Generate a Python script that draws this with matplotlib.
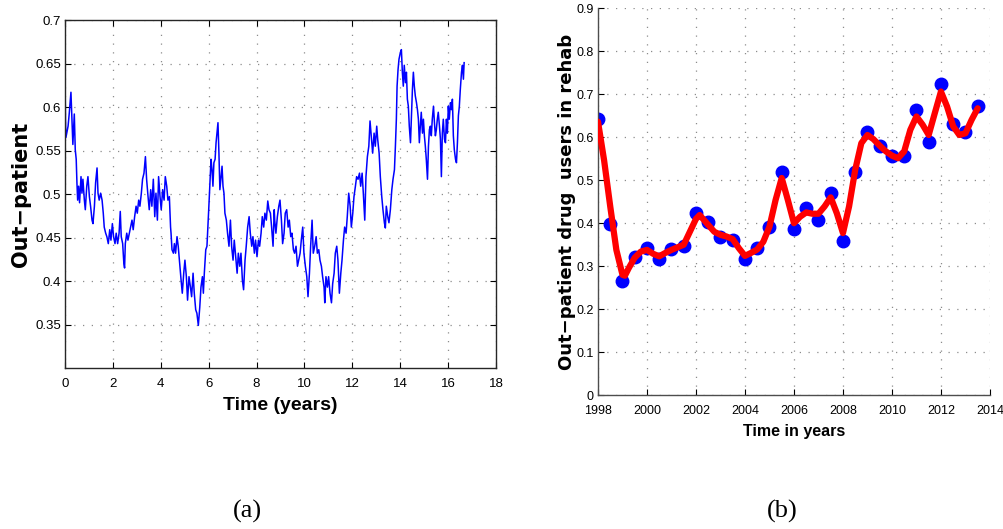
import matplotlib
matplotlib.use('Agg')
import matplotlib.pyplot as plt
from matplotlib.ticker import FormatStrFormatter

# ---------- panel (a): out-patient fraction over time ----------
t_years = [
    0.00, 0.02, 0.04, 0.13, 0.18, 0.25, 0.29, 0.33, 0.39, 0.43, 0.47, 0.50, 0.53, 0.57, 0.61,
    0.67, 0.71, 0.75, 0.81, 0.85, 0.91, 0.96, 1.02, 1.07, 1.13, 1.17, 1.23, 1.28, 1.34, 1.38,
    1.43, 1.49, 1.55, 1.60, 1.64, 1.70, 1.75, 1.81, 1.87, 1.92, 1.98, 2.03, 2.09, 2.14, 2.20,
    2.26, 2.31, 2.35, 2.41, 2.46, 2.49, 2.52, 2.58, 2.63, 2.69, 2.74, 2.80, 2.85, 2.91, 2.97,
    3.02, 3.08, 3.13, 3.19, 3.24, 3.30, 3.36, 3.41, 3.47, 3.52, 3.58, 3.63, 3.69, 3.75, 3.80,
    3.86, 3.91, 3.97, 4.02, 4.08, 4.14, 4.19, 4.25, 4.30, 4.36, 4.41,
    4.43, 4.47, 4.53, 4.57, 4.62, 4.68, 4.73, 4.79, 4.85, 4.90, 4.96, 5.01, 5.07, 5.12, 5.18,
    5.24, 5.29, 5.35, 5.40, 5.46, 5.51, 5.57, 5.63, 5.68, 5.74, 5.78, 5.82, 5.88, 5.93, 5.97,
    6.01, 6.06, 6.10, 6.14, 6.18, 6.22, 6.27, 6.31, 6.35, 6.39, 6.43, 6.47, 6.52, 6.56, 6.60,
    6.64, 6.68, 6.74, 6.79, 6.85, 6.91, 6.96, 7.02, 7.07, 7.13, 7.19, 7.24, 7.30, 7.35, 7.41,
    7.46, 7.52, 7.57, 7.63, 7.69, 7.74, 7.80, 7.85, 7.91, 7.96, 8.02, 8.08, 8.13, 8.19, 8.24,
    8.30, 8.35, 8.41, 8.47, 8.52, 8.58, 8.63, 8.69, 8.74,
    8.76, 8.81, 8.87, 8.93, 8.98, 9.04, 9.09, 9.15, 9.20, 9.26, 9.32, 9.37, 9.43, 9.48, 9.54,
    9.59, 9.65, 9.71, 9.76, 9.82, 9.87, 9.93, 9.98, 10.04, 10.10, 10.15, 10.21, 10.26, 10.32,
    10.37, 10.43, 10.49, 10.54, 10.60, 10.65, 10.71, 10.76, 10.82, 10.85, 10.90, 10.96, 11.01,
    11.07, 11.13, 11.18, 11.24, 11.29, 11.35, 11.40, 11.46, 11.52, 11.57, 11.63, 11.68, 11.74,
    11.79, 11.85, 11.91, 11.96, 12.02, 12.07, 12.13, 12.18, 12.24, 12.30, 12.35, 12.41, 12.46,
    12.52, 12.57, 12.63, 12.69, 12.74, 12.80, 12.85, 12.91, 12.96, 13.02, 13.06,
    13.12, 13.17, 13.23, 13.28, 13.34, 13.38, 13.42, 13.48, 13.53, 13.59, 13.65, 13.70, 13.76,
    13.80, 13.84, 13.87, 13.91, 13.95, 14.01, 14.05, 14.09, 14.13, 14.17, 14.22, 14.26, 14.30,
    14.34, 14.38, 14.43, 14.47, 14.51, 14.55, 14.59, 14.63, 14.68, 14.72, 14.76, 14.80, 14.84,
    14.88, 14.93, 14.97, 15.01, 15.05, 15.09, 15.14, 15.18, 15.22, 15.26, 15.30, 15.34, 15.39,
    15.43, 15.47, 15.51, 15.55, 15.59, 15.64, 15.68, 15.72, 15.76, 15.80, 15.85, 15.89, 15.93,
    15.97, 16.01, 16.05, 16.10, 16.14, 16.18, 16.22, 16.26, 16.31, 16.35, 16.39, 16.43, 16.47,
    16.51, 16.56, 16.60, 16.64, 16.67,
]
out_patient = [
    0.642, 0.586, 0.565, 0.578, 0.593, 0.617, 0.586, 0.557, 0.592, 0.551, 0.540, 0.513, 0.493, 0.509, 0.490,
    0.520, 0.501, 0.517, 0.493, 0.482, 0.509, 0.520, 0.497, 0.486, 0.470, 0.466, 0.486, 0.513, 0.530, 0.501,
    0.493, 0.501, 0.493, 0.478, 0.462, 0.455, 0.451, 0.443, 0.459, 0.447, 0.466, 0.451, 0.443, 0.455, 0.443,
    0.455, 0.480, 0.451, 0.443, 0.420, 0.415, 0.443, 0.455, 0.447, 0.455, 0.462, 0.470, 0.459, 0.474, 0.486,
    0.478, 0.493, 0.486, 0.501, 0.517, 0.524, 0.543, 0.517, 0.497, 0.482, 0.505, 0.486, 0.517, 0.474, 0.501,
    0.470, 0.520, 0.497, 0.482, 0.505, 0.493, 0.520, 0.509, 0.493, 0.497, 0.462,
    0.455, 0.436, 0.432, 0.443, 0.432, 0.451, 0.440, 0.420, 0.401, 0.386, 0.409, 0.424, 0.405, 0.378, 0.405,
    0.393, 0.382, 0.409, 0.386, 0.367, 0.363, 0.349, 0.370, 0.393, 0.405, 0.386, 0.409, 0.436, 0.440, 0.462,
    0.486, 0.517, 0.540, 0.528, 0.509, 0.536, 0.540, 0.559, 0.570, 0.582, 0.547, 0.505, 0.520, 0.532, 0.509,
    0.501, 0.478, 0.470, 0.455, 0.440, 0.470, 0.440, 0.424, 0.447, 0.428, 0.409, 0.432, 0.417, 0.432, 0.401,
    0.390, 0.424, 0.440, 0.462, 0.474, 0.455, 0.440, 0.451, 0.432, 0.447, 0.428, 0.447, 0.440, 0.455, 0.474,
    0.462, 0.478, 0.470, 0.492, 0.482, 0.478, 0.462, 0.440, 0.482,
    0.470, 0.455, 0.474, 0.486, 0.493, 0.470, 0.443, 0.455, 0.478, 0.482, 0.462, 0.470, 0.451, 0.455, 0.436,
    0.432, 0.440, 0.417, 0.424, 0.432, 0.447, 0.462, 0.432, 0.417, 0.405, 0.382, 0.409, 0.440, 0.470,
    0.432, 0.440, 0.451, 0.432, 0.436, 0.424, 0.417, 0.405, 0.393, 0.375, 0.405, 0.393, 0.405,
    0.386, 0.375, 0.397, 0.409, 0.432, 0.440, 0.424, 0.386, 0.409, 0.424, 0.447, 0.462, 0.455,
    0.474, 0.501, 0.486, 0.462, 0.478, 0.497, 0.509, 0.520, 0.517, 0.524, 0.509, 0.524, 0.501,
    0.470, 0.520, 0.543, 0.555, 0.584, 0.563, 0.547, 0.570, 0.555, 0.578, 0.563,
    0.547, 0.520, 0.497, 0.482, 0.467, 0.461, 0.486, 0.474, 0.467, 0.482, 0.505, 0.517, 0.528,
    0.555, 0.586, 0.624, 0.643, 0.655, 0.663, 0.666, 0.640, 0.624, 0.648, 0.628, 0.640, 0.609,
    0.601, 0.578, 0.559, 0.590, 0.620, 0.640, 0.624, 0.613, 0.605, 0.597, 0.586, 0.559, 0.578,
    0.594, 0.570, 0.586, 0.567, 0.555, 0.540, 0.517, 0.555, 0.574, 0.578, 0.567, 0.586, 0.601,
    0.582, 0.567, 0.574, 0.586, 0.594, 0.578, 0.563, 0.520, 0.570, 0.586, 0.563, 0.559, 0.586,
    0.570, 0.601, 0.586, 0.605, 0.597, 0.609, 0.567, 0.551, 0.540, 0.536, 0.559, 0.590, 0.601,
    0.620, 0.640, 0.648, 0.632, 0.651,
]

# ---------- panel (b): drug users in rehab, half-yearly ----------
obs_years = [1998, 1998.5, 1999, 1999.5, 2000, 2000.5, 2001, 2001.5, 2002, 2002.5, 2003,
             2003.5, 2004, 2004.5, 2005, 2005.5, 2006, 2006.5, 2007, 2007.5, 2008, 2008.5,
             2009, 2009.5, 2010, 2010.5, 2011, 2011.5, 2012, 2012.5, 2013, 2013.5]
obs_values = [0.643, 0.398, 0.266, 0.322, 0.342, 0.316, 0.341, 0.347, 0.423, 0.403, 0.369,
              0.361, 0.316, 0.342, 0.391, 0.520, 0.387, 0.435, 0.408, 0.470, 0.359, 0.518,
              0.613, 0.580, 0.557, 0.557, 0.662, 0.588, 0.723, 0.631, 0.611, 0.673]

# smoothed fit through the observations
fit_years = [1998, 1998.25, 1998.5, 1998.75, 1999, 1999.1, 1999.25, 1999.5, 1999.75, 2000,
             2000.25, 2000.5, 2000.75, 2001, 2001.25, 2001.5, 2001.75, 2002, 2002.15, 2002.5,
             2002.75, 2003, 2003.25, 2003.5, 2003.75, 2004, 2004.25, 2004.5, 2004.75, 2005,
             2005.25, 2005.5, 2005.75, 2006, 2006.25, 2006.5, 2006.75, 2007, 2007.25, 2007.5,
             2007.75, 2008, 2008.25, 2008.5, 2008.75, 2009, 2009.25, 2009.5, 2009.75, 2010,
             2010.25, 2010.5, 2010.75, 2011, 2011.25, 2011.5, 2011.75, 2012, 2012.25, 2012.5,
             2012.75, 2013, 2013.25, 2013.5]
fit_values = [0.636, 0.546, 0.439, 0.338, 0.280, 0.278, 0.295, 0.320, 0.334, 0.338,
              0.329, 0.323, 0.331, 0.338, 0.344, 0.350, 0.380, 0.410, 0.419, 0.396,
              0.380, 0.373, 0.369, 0.363, 0.342, 0.324, 0.331, 0.339, 0.357, 0.392,
              0.454, 0.505, 0.454, 0.400, 0.415, 0.425, 0.422, 0.422, 0.439, 0.460,
              0.423, 0.377, 0.439, 0.524, 0.586, 0.605, 0.595, 0.580, 0.567, 0.557,
              0.551, 0.567, 0.617, 0.648, 0.629, 0.605, 0.656, 0.706, 0.671, 0.625,
              0.605, 0.609, 0.640, 0.667]

SANS = ['Liberation Sans', 'DejaVu Sans']
GRID = dict(linestyle=(0, (1, 6)), color='0.55', linewidth=0.9)

fig = plt.figure(figsize=(10.04, 5.29), dpi=100)

# ---- (a) ----
ax1 = fig.add_axes([0.0647, 0.3043, 0.4293, 0.6578])
ax1.plot(t_years, out_patient, color='b', linewidth=1.1)
ax1.set_xlim(0, 18)
ax1.set_ylim(0.3, 0.7)
ax1.set_xticks(range(0, 19, 2))
ax1.set_yticks([0.35, 0.4, 0.45, 0.5, 0.55, 0.6, 0.65, 0.7])
ax1.yaxis.set_major_formatter(FormatStrFormatter('%g'))
ax1.grid(True, **GRID)
ax1.tick_params(direction='in', top=True, right=True, length=4, width=0.8)
ax1.tick_params(axis='x', pad=7)
ax1.tick_params(axis='y', pad=3)
for s in ax1.spines.values():
    s.set_linewidth(1.0)
    s.set_color('0.15')
for lab in ax1.get_xticklabels() + ax1.get_yticklabels():
    lab.set_family(SANS)
    lab.set_fontsize(9.5)
ax1.set_xlabel('Time (years)', family=SANS, fontsize=14, fontweight='bold', labelpad=5)
ax1.set_ylabel('Out\u2212patient', family='DejaVu Sans', fontsize=15, fontweight='bold', labelpad=3)

# ---- (b) ----
ax2 = fig.add_axes([0.5956, 0.2527, 0.3904, 0.7321])
ax2.plot(obs_years, obs_values, 'o', color='b', markersize=9, zorder=2)
ax2.plot(fit_years, fit_values, color='r', linewidth=4.5, solid_capstyle='round',
         solid_joinstyle='round', zorder=3)
ax2.set_xlim(1998, 2014)
ax2.set_ylim(0, 0.9)
ax2.set_xticks(range(1998, 2015, 2))
ax2.set_yticks([i / 10 for i in range(10)])
ax2.yaxis.set_major_formatter(FormatStrFormatter('%g'))
ax2.grid(True, **GRID)
ax2.spines['top'].set_visible(False)
ax2.spines['right'].set_visible(False)
for s in ('left', 'bottom'):
    ax2.spines[s].set_linewidth(1.0)
    ax2.spines[s].set_color('0.3')
ax2.tick_params(direction='in', length=4, width=0.8)
ax2.tick_params(axis='x', pad=7)
ax2.tick_params(axis='y', pad=3)
for lab in ax2.get_xticklabels() + ax2.get_yticklabels():
    lab.set_family(SANS)
    lab.set_fontsize(9)
ax2.set_xlabel('Time in years', family=SANS, fontsize=11.5, fontweight='bold', labelpad=5)
ax2.set_ylabel('Out\u2212patient drug  users in rehab', family='DejaVu Sans', fontsize=13,
               fontweight='bold', labelpad=0.5)

# sub-figure captions
fig.text(0.2465, 0.034, '(a)', family='Liberation Serif', fontsize=19, ha='center', va='center')
fig.text(0.779, 0.034, '(b)', family='Liberation Serif', fontsize=19, ha='center', va='center')

fig.savefig('out.png', dpi=100)
